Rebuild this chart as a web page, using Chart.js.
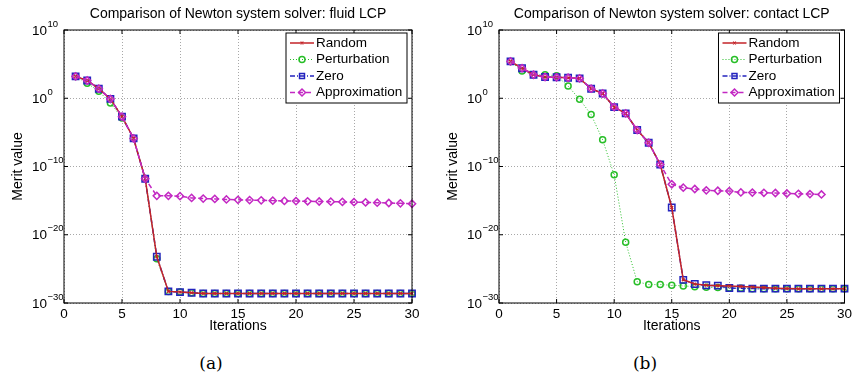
<!DOCTYPE html>
<html>
<head>
<meta charset="utf-8">
<script src="https://cdn.jsdelivr.net/npm/chart.js@4"></script>
<style>
  body { margin: 0; width: 855px; height: 377px; background: #fff; overflow: hidden; position: relative; }
  .panel { position: absolute; top: 0; height: 340px; }
  .caption { position: absolute; top: 353px; width: 60px; text-align: center; font: 17px "DejaVu Serif", serif; line-height: 20px; color: #000; }
</style>
</head>
<body>
<div class="panel" style="left:0;width:428px"><canvas id="fluidChart" width="428" height="340"></canvas></div>
<div class="panel" style="left:435px;width:420px"><canvas id="contactChart" width="420" height="340"></canvas></div>
<div class="caption" style="left:181px">(a)</div>
<div class="caption" style="left:615px">(b)</div>
<script>
const iterations = [1, 2, 3, 4, 5, 6, 7, 8, 9, 10, 11, 12, 13, 14, 15, 16, 17, 18, 19, 20, 21, 22, 23, 24, 25, 26, 27, 28, 29, 30];
const xTicks = [0, 5, 10, 15, 20, 25, 30];
const yTickExponents = [10, 0, -10, -20, -30];
const seriesNames = ['Random', 'Perturbation', 'Zero', 'Approximation'];

// (a) fluid LCP
const fluidRandom = [1.6e3, 4e2, 2.5e1, 8e-1, 2e-3, 1.3e-6, 1.6e-12, 6e-24, 5e-29, 4e-29, 3.2e-29,
  2.5e-29, 2.5e-29, 2.5e-29, 2.5e-29, 2.5e-29, 2.5e-29, 2.5e-29, 2.5e-29, 2.5e-29, 2.5e-29,
  2.5e-29, 2.5e-29, 2.5e-29, 2.5e-29, 2.5e-29, 2.5e-29, 2.5e-29, 2.5e-29, 2.5e-29];
const fluidPerturbation = [1.6e3, 1.6e2, 1.1e1, 2e-1, 1.3e-3, 1.3e-6, 1.6e-12, 3e-24, 5e-29, 4e-29, 3.2e-29,
  2.5e-29, 2.5e-29, 2.5e-29, 2.5e-29, 2.5e-29, 2.5e-29, 2.5e-29, 2.5e-29, 2.5e-29, 2.5e-29,
  2.5e-29, 2.5e-29, 2.5e-29, 2.5e-29, 2.5e-29, 2.5e-29, 2.5e-29, 2.5e-29, 2.5e-29];
const fluidZero = [1.6e3, 4e2, 2.5e1, 8e-1, 2e-3, 1.3e-6, 1.6e-12, 6e-24, 5e-29, 4e-29, 3.2e-29,
  2.5e-29, 2.5e-29, 2.5e-29, 2.5e-29, 2.5e-29, 2.5e-29, 2.5e-29, 2.5e-29, 2.5e-29, 2.5e-29,
  2.5e-29, 2.5e-29, 2.5e-29, 2.5e-29, 2.5e-29, 2.5e-29, 2.5e-29, 2.5e-29, 2.5e-29];
const fluidApproximation = [1.6e3, 4e2, 2.5e1, 8e-1, 2e-3, 1.3e-6, 1.6e-12,
  5e-15, 5e-15, 4.5e-15, 2.5e-15, 2e-15, 1.8e-15, 1.5e-15, 1.3e-15, 1.2e-15, 1.1e-15, 1e-15,
  9e-16, 8.5e-16, 8e-16, 7.5e-16, 7e-16, 6.5e-16, 6e-16, 5.5e-16, 5e-16, 4.5e-16, 4e-16, 3.5e-16];

// (b) contact LCP
const contactRandom = [2.5e5, 2.5e4, 2.8e3, 1.3e3, 1.2e3, 1e3, 8e2, 2.5e1, 5, 5e-2, 6e-3, 2.2e-5, 3e-7, 2e-10,
  1e-16, 2.5e-27, 6e-28, 4e-28, 3.5e-28, 3e-28, 2.6e-28, 2.2e-28, 1.8e-28, 1.5e-28, 1.3e-28,
  1.2e-28, 1.2e-28, 1.2e-28, 1.2e-28, 1.2e-28];
const contactPerturbation = [2.5e5, 1e4, 2.8e3, 2.8e3, 2e3, 6e1, 7e-1, 4e-3, 8e-7, 6e-12, 8e-22,
  1.3e-27, 5e-28, 5e-28, 4e-28, 3.2e-28, 2.5e-28, 2e-28, 1.8e-28, 1.6e-28, 1.4e-28,
  1.25e-28, 1.25e-28, 1.25e-28, 1.25e-28, 1.25e-28, 1.25e-28, 1.25e-28, 1.25e-28, 1.25e-28];
const contactZero = [2.5e5, 2.5e4, 2.8e3, 1.3e3, 1.2e3, 1e3, 8e2, 2.5e1, 5, 5e-2, 6e-3, 2.2e-5, 3e-7, 2e-10,
  1e-16, 2.5e-27, 6e-28, 4e-28, 3.5e-28, 1.6e-28, 1.4e-28, 1.3e-28,
  1.25e-28, 1.25e-28, 1.25e-28, 1.25e-28, 1.25e-28, 1.25e-28, 1.25e-28, 1.25e-28];
const contactApproximation = [2.5e5, 2.5e4, 2.8e3, 1.3e3, 1.2e3, 1e3, 8e2, 2.5e1, 5, 5e-2, 6e-3, 2.2e-5, 3e-7, 2e-10,
  2.5e-13, 8e-14, 5e-14, 3.2e-14, 2.8e-14, 2.5e-14, 1.6e-14, 1.5e-14, 1.4e-14, 1.3e-14,
  1.1e-14, 1e-14, 9e-15, 8e-15, null, null];

const FONT = '"Liberation Sans", Arial, Helvetica, sans-serif';

// matlab-ish line styles, same order as seriesNames
const seriesStyles = [
  { color: 'rgb(195, 35, 40)', width: 1.5, dash: [], point: 'crossRot', radius: 2, pointWidth: 1.2, order: 1 },
  { color: 'rgb(40, 190, 40)', width: 1, dash: [1, 2], point: 'circle', radius: 3, pointWidth: 1.5, order: 3 },
  { color: 'rgb(35, 35, 190)', width: 1.5, dash: [5, 2, 1, 2], point: 'rect', radius: 4.5, pointWidth: 1.5, order: 2 },
  { color: 'rgb(195, 40, 195)', width: 1.5, dash: [5, 3], point: 'rectRot', radius: 3.6, pointWidth: 1.5, order: 0 }
];

// box, inward ticks, 10^n labels, title and legend, drawn like matlab
const matlabFrame = {
  id: 'matlabFrame',
  afterDraw(chart, args, opts) {
    const { ctx, chartArea: a, scales: { x, y } } = chart;
    ctx.save();
    ctx.strokeStyle = '#000';
    ctx.lineWidth = 1;
    ctx.setLineDash([]);
    ctx.strokeRect(a.left, a.top, a.width, a.height);

    ctx.beginPath();
    xTicks.forEach(v => {
      const px = x.getPixelForValue(v);
      ctx.moveTo(px, a.bottom); ctx.lineTo(px, a.bottom - 4);
      ctx.moveTo(px, a.top); ctx.lineTo(px, a.top + 4);
    });
    yTickExponents.forEach(e => {
      const py = y.getPixelForValue(Math.pow(10, e));
      ctx.moveTo(a.left, py); ctx.lineTo(a.left + 4, py);
      ctx.moveTo(a.right, py); ctx.lineTo(a.right - 4, py);
    });
    ctx.stroke();

    ctx.fillStyle = '#000';
    ctx.textAlign = 'left';
    ctx.textBaseline = 'middle';
    yTickExponents.forEach(e => {
      const py = y.getPixelForValue(Math.pow(10, e));
      ctx.font = '13.5px ' + FONT;
      ctx.fillText('10', a.left - 32, py + 1);
      const w = ctx.measureText('10').width;
      ctx.font = '9.5px ' + FONT;
      ctx.fillText(String(e).replace('-', '\u2212'), a.left - 32 + w + 0.5, py - 6);
    });

    ctx.font = '14px ' + FONT;
    ctx.textAlign = 'center';
    ctx.fillText(opts.text, (a.left + a.right) / 2, 14.5);

    // legend box
    const lw = 121, lh = 70;
    const lx = a.right - 126, ly = a.top + 3;
    ctx.fillStyle = '#fff';
    ctx.fillRect(lx, ly, lw, lh);
    ctx.strokeStyle = '#000';
    ctx.lineWidth = 1;
    ctx.strokeRect(lx, ly, lw, lh);
    chart.data.datasets.forEach((ds, i) => {
      const cy = ly + 10 + i * 16.5;
      ctx.strokeStyle = ds.borderColor;
      ctx.lineWidth = ds.borderWidth;
      ctx.setLineDash(ds.borderDash);
      ctx.beginPath();
      ctx.moveTo(lx + 4, cy);
      ctx.lineTo(lx + 28, cy);
      ctx.stroke();
      ctx.setLineDash([]);
      ctx.fillStyle = 'rgba(0,0,0,0)';
      ctx.lineWidth = ds.pointBorderWidth;
      Chart.helpers.drawPoint(ctx, {
        pointStyle: ds.pointStyle, radius: Math.min(ds.pointRadius, 3.5), rotation: 0, borderWidth: ds.pointBorderWidth
      }, lx + 16, cy);
      ctx.fillStyle = '#000';
      ctx.font = '13.5px ' + FONT;
      ctx.textAlign = 'left';
      ctx.fillText(ds.label, lx + 30, cy);
    });
    ctx.restore();
  }
};

function makeChart(canvasId, title, series, padRight) {
  const datasets = series.map((values, i) => {
    const s = seriesStyles[i];
    return {
      label: seriesNames[i],
      data: iterations.map((it, k) => ({ x: it, y: values[k] })),
      borderColor: s.color,
      borderWidth: s.width,
      borderDash: s.dash,
      pointStyle: s.point,
      pointRadius: s.radius,
      pointBorderWidth: s.pointWidth,
      pointBorderColor: s.color,
      pointBackgroundColor: 'rgba(0,0,0,0)',
      backgroundColor: 'rgba(0,0,0,0)',
      tension: 0,
      clip: false,
      order: s.order
    };
  });

  const gridStyle = { color: '#a8a8a8', lineWidth: 1, drawTicks: false };

  return new Chart(document.getElementById(canvasId), {
    type: 'line',
    data: { datasets: datasets },
    options: {
      responsive: false,
      animation: false,
      events: [],
      layout: { padding: { top: 30, right: padRight, left: 0, bottom: 0 } },
      plugins: {
        legend: { display: false },
        tooltip: { enabled: false },
        matlabFrame: { text: title }
      },
      scales: {
        x: {
          type: 'linear',
          min: 0,
          max: 30,
          afterBuildTicks: scale => { scale.ticks = xTicks.map(v => ({ value: v })); },
          afterFit: scale => { scale.height = 37; },
          ticks: { color: '#000', font: { size: 13.5, family: FONT }, padding: 3, maxRotation: 0 },
          grid: gridStyle,
          border: { display: false, dash: [1, 2] },
          title: { display: true, text: 'Iterations', color: '#000', font: { size: 14, family: FONT }, padding: { top: 0, bottom: 5 } }
        },
        y: {
          type: 'logarithmic',
          min: 1e-30,
          max: 1e10,
          afterBuildTicks: scale => { scale.ticks = yTickExponents.map(e => ({ value: Math.pow(10, e) })); },
          afterFit: scale => { scale.width = 64; },
          ticks: { display: false },
          grid: gridStyle,
          border: { display: false, dash: [1, 2] },
          title: { display: true, text: 'Merit value', color: '#000', font: { size: 14, family: FONT }, padding: { top: 10, bottom: 0 } }
        }
      }
    },
    plugins: [matlabFrame]
  });
}

makeChart('fluidChart', 'Comparison of Newton system solver: fluid LCP',
  [fluidRandom, fluidPerturbation, fluidZero, fluidApproximation], 16);
makeChart('contactChart', 'Comparison of Newton system solver: contact LCP',
  [contactRandom, contactPerturbation, contactZero, contactApproximation], 9);
</script>
</body>
</html>
